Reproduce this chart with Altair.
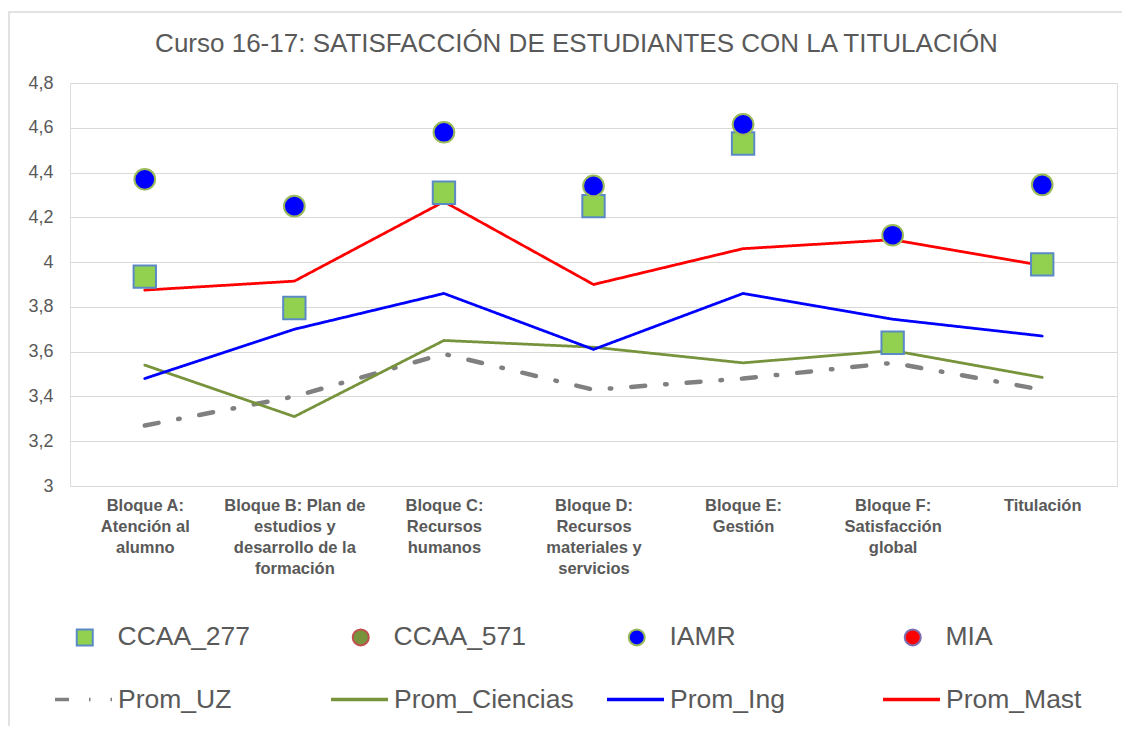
import altair as alt
import pandas as pd

categorias = [
    "Bloque A:\nAtención al\nalumno",
    "Bloque B: Plan de\nestudios y\ndesarrollo de la\nformación",
    "Bloque C:\nRecursos\nhumanos",
    "Bloque D:\nRecursos\nmateriales y\nservicios",
    "Bloque E:\nGestión",
    "Bloque F:\nSatisfacción\nglobal",
    "Titulación",
]

ccaa_277 = [3.935, 3.795, 4.31, 4.25, 4.53, 3.64, 3.99]
ccaa_571 = [None, None, None, None, None, None, None]
iamr = [4.37, 4.25, 4.58, 4.34, 4.615, 4.12, 4.345]
mia = [None, None, None, None, None, None, None]

prom_uz = [3.27, 3.40, 3.59, 3.43, 3.48, 3.55, 3.43]
prom_ciencias = [3.54, 3.31, 3.65, 3.62, 3.55, 3.605, 3.485]
prom_ing = [3.48, 3.70, 3.86, 3.61, 3.86, 3.745, 3.67]
prom_mast = [3.875, 3.915, 4.27, 3.90, 4.06, 4.10, 3.985]

series_puntos = ["CCAA_277", "CCAA_571", "IAMR", "MIA"]
series_lineas = ["Prom_UZ", "Prom_Ciencias", "Prom_Ing", "Prom_Mast"]
y_ticks = [3, 3.2, 3.4, 3.6, 3.8, 4, 4.2, 4.4, 4.6, 4.8]

valores = {
    "CCAA_277": ccaa_277, "CCAA_571": ccaa_571, "IAMR": iamr, "MIA": mia,
    "Prom_UZ": prom_uz, "Prom_Ciencias": prom_ciencias,
    "Prom_Ing": prom_ing, "Prom_Mast": prom_mast,
}

rows = []
for serie, vals in valores.items():
    for i, (cat, v) in enumerate(zip(categorias, vals)):
        if v is not None:
            rows.append({"categoria": cat, "serie": serie, "valor": v, "orden": i})
df = pd.DataFrame(rows)

FONT = "Liberation Sans"
TXT = "#595959"

x_enc = alt.X(
    "categoria:N", sort=categorias, title=None,
    scale=alt.Scale(type="point", padding=0.5),
    axis=alt.Axis(labelAngle=0, labelExpr="split(datum.label, '\\n')",
                  labelFont=FONT, labelFontSize=16.5, labelFontWeight="bold",
                  labelColor=TXT, labelLineHeight=21, labelBaseline="top",
                  labelPadding=11, labelLimit=300, domain=False, ticks=False,
                  grid=False),
)
y_enc = alt.Y(
    "valor:Q", title=None,
    scale=alt.Scale(domain=[3, 4.8], nice=False, zero=False),
    axis=alt.Axis(values=y_ticks, labelExpr="replace(format(datum.value, '~g'), '.', ',')",
                  labelFont=FONT, labelFontSize=18, labelColor=TXT, labelPadding=17,
                  domain=False, ticks=False, grid=True, gridColor="#d9d9d9",
                  gridWidth=1),
)

leg_lineas = alt.Legend(
    title=None, orient="none", legendX=-17, legendY=586, direction="horizontal",
    columns=4, gridAlign="all", columnPadding=26, symbolType="stroke",
    symbolSize=3249, symbolStrokeWidth=3.5, labelOffset=4, labelLimit=400,
    labelFont=FONT, labelFontSize=26.5, labelColor=TXT,
)
color_lineas = alt.Color(
    "serie:N", scale=alt.Scale(domain=series_lineas,
                               range=["#808080", "#77933c", "#0000ff", "#ff0000"]),
    legend=leg_lineas,
)
dash_lineas = alt.StrokeDash(
    "serie:N", scale=alt.Scale(domain=series_lineas,
                               range=[[14, 20, 1.5, 20], [1, 0], [1, 0], [1, 0]]),
    legend=leg_lineas,
)

leg_puntos = alt.Legend(
    title=None, orient="none", legendX=1.5, legendY=541, direction="horizontal",
    columns=4, gridAlign="all", columnPadding=97, symbolSize=256,
    symbolStrokeWidth=2, labelOffset=19.5, labelLimit=400,
    labelFont=FONT, labelFontSize=26.5, labelColor=TXT,
)
fill_p = alt.Fill("serie:N", scale=alt.Scale(domain=series_puntos,
                  range=["#92d050", "#77933c", "#0000ff", "#ff0000"]), legend=leg_puntos)
stroke_p = alt.Stroke("serie:N", scale=alt.Scale(domain=series_puntos,
                      range=["#5a8ac6", "#c0504d", "#9bbb59", "#7f6fb0"]), legend=leg_puntos)
shape_p = alt.Shape("serie:N", scale=alt.Scale(domain=series_puntos,
                    range=["square", "circle", "circle", "circle"]), legend=leg_puntos)

base = alt.Chart(df)

marco = base.mark_rect(fillOpacity=0, stroke="#d9d9d9", strokeWidth=1.5).encode(
    x=alt.value(-61), x2=alt.value(1200), y=alt.value(-71), y2=alt.value(800)
).transform_filter(alt.datum.orden == 0).transform_filter(alt.datum.serie == "IAMR")

linea_uz = base.mark_line(strokeWidth=4.5, strokeCap="round").encode(
    x=x_enc, y=y_enc, color=color_lineas, strokeDash=dash_lineas,
    order="orden:Q",
).transform_filter(alt.FieldOneOfPredicate(field="serie", oneOf=["Prom_UZ"]))

lineas = base.mark_line(strokeWidth=2.75, strokeCap="round", strokeJoin="miter").encode(
    x=x_enc, y=y_enc, color=color_lineas, strokeDash=dash_lineas,
    order="orden:Q",
).transform_filter(alt.FieldOneOfPredicate(field="serie",
                                           oneOf=["Prom_Ciencias", "Prom_Ing", "Prom_Mast"]))

cuadros = base.mark_point(filled=True, size=500, strokeWidth=2, opacity=1).encode(
    x=x_enc, y=y_enc, fill=fill_p, stroke=stroke_p, shape=shape_p,
).transform_filter(alt.FieldOneOfPredicate(field="serie", oneOf=["CCAA_277", "CCAA_571"]))

circulos = base.mark_point(filled=True, size=430, strokeWidth=2, opacity=1).encode(
    x=x_enc, y=y_enc, fill=fill_p, stroke=stroke_p, shape=shape_p,
).transform_filter(alt.FieldOneOfPredicate(field="serie", oneOf=["IAMR", "MIA"]))

chart = alt.layer(marco, linea_uz, lineas, cuadros, circulos).properties(
    width=1047, height=403,
    title=alt.Title("Curso 16-17: SATISFACCIÓN DE ESTUDIANTES CON LA TITULACIÓN",
                    font=FONT, fontSize=26, fontWeight="normal", color=TXT,
                    anchor="middle", frame="group", baseline="alphabetic",
                    offset=-67, dx=-17),
    autosize=alt.AutoSizeParams(type="none"),
    padding={"left": 62, "top": 75, "right": 5, "bottom": 240},
).configure_view(stroke=None).configure(background="white")

chart.save("out.html", embed_options={"renderer": "svg", "actions": False})
